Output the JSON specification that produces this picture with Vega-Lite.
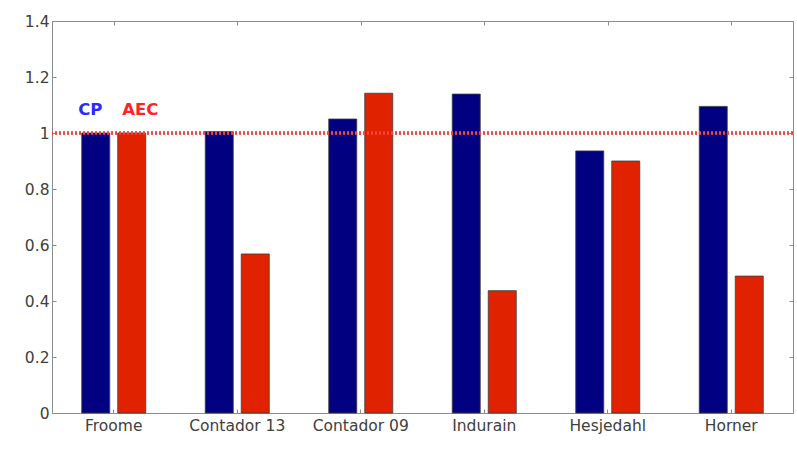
{
  "$schema": "https://vega.github.io/schema/vega-lite/v6.json",
  "autosize": {"type": "none"},
  "padding": {"left": 52, "top": 21, "right": 4, "bottom": 48},
  "width": 741,
  "height": 392,
  "background": "#ffffff",
  "config": {
    "view": {"stroke": "#8c8c8c", "strokeWidth": 1},
    "font": "DejaVu Sans",
    "axis": {
      "grid": false,
      "domainColor": "#8c8c8c",
      "tickColor": "#8c8c8c",
      "labelColor": "#404040",
      "labelFont": "DejaVu Sans",
      "labelFontSize": 15.5,
      "title": null
    }
  },
  "data": {
    "values": [
      {"name": "Froome", "series": "CP", "value": 1.0},
      {"name": "Froome", "series": "AEC", "value": 1.0},
      {"name": "Contador 13", "series": "CP", "value": 1.005},
      {"name": "Contador 13", "series": "AEC", "value": 0.568},
      {"name": "Contador 09", "series": "CP", "value": 1.05},
      {"name": "Contador 09", "series": "AEC", "value": 1.142},
      {"name": "Indurain", "series": "CP", "value": 1.139},
      {"name": "Indurain", "series": "AEC", "value": 0.437},
      {"name": "Hesjedahl", "series": "CP", "value": 0.936},
      {"name": "Hesjedahl", "series": "AEC", "value": 0.9},
      {"name": "Horner", "series": "CP", "value": 1.095},
      {"name": "Horner", "series": "AEC", "value": 0.489}
    ]
  },
  "layer": [
    {
      "encoding": {
        "x": {
          "field": "name", "type": "nominal", "sort": null,
          "scale": {"paddingInner": 0, "paddingOuter": 0},
          "axis": {"orient": "bottom", "labelAngle": 0, "tickSize": -4, "labelPadding": 9, "domain": true}
        },
        "y": {
          "field": "value", "type": "quantitative",
          "scale": {"domain": [0, 1.4], "nice": false, "zero": true},
          "axis": {"orient": "left", "values": [0, 0.2, 0.4, 0.6, 0.8, 1, 1.2, 1.4], "format": "~g", "tickSize": -4, "labelPadding": 7}
        }
      },
      "layer": [
        {
          "mark": {"type": "bar", "stroke": "#3c3c3c", "strokeWidth": 0.8},
          "encoding": {
            "xOffset": {
              "field": "series", "type": "nominal", "sort": ["CP", "AEC"],
              "scale": {"paddingInner": 0.222, "paddingOuter": 0.826}
            },
            "color": {
              "field": "series", "type": "nominal",
              "scale": {"domain": ["CP", "AEC"], "range": ["#000080", "#e02200"]},
              "legend": null
            }
          }
        },
        {
          "mark": {"type": "rule", "color": "#ff4040", "strokeWidth": 2.4, "strokeDash": [2, 2], "opacity": 0.55},
          "encoding": {"y": {"datum": 1}, "x": null}
        },
        {
          "transform": [{"filter": "datum.name === 'Froome' && datum.series === 'CP'"}],
          "mark": {"type": "text", "color": "#2a2aff", "fontWeight": "bold", "fontSize": 16.5, "dy": -23, "dx": -5.5, "baseline": "middle", "align": "center"},
          "encoding": {
            "xOffset": {"field": "series", "type": "nominal", "sort": ["CP", "AEC"], "scale": {"paddingInner": 0.222, "paddingOuter": 0.826}},
            "text": {"field": "series"}
          }
        },
        {
          "transform": [{"filter": "datum.name === 'Froome' && datum.series === 'AEC'"}],
          "mark": {"type": "text", "color": "#ff2424", "fontWeight": "bold", "fontSize": 16.5, "dy": -23, "dx": 8.5, "baseline": "middle", "align": "center"},
          "encoding": {
            "xOffset": {"field": "series", "type": "nominal", "sort": ["CP", "AEC"], "scale": {"paddingInner": 0.222, "paddingOuter": 0.826}},
            "text": {"field": "series"}
          }
        }
      ]
    },
    {
      "mark": {"type": "point", "opacity": 0},
      "encoding": {
        "x": {
          "field": "name", "type": "nominal", "sort": null,
          "scale": {"paddingInner": 0, "paddingOuter": 0},
          "axis": {"orient": "top", "labels": false, "tickSize": -4, "domain": true}
        },
        "y": {
          "field": "value", "type": "quantitative",
          "scale": {"domain": [0, 1.4], "nice": false, "zero": true},
          "axis": {"orient": "right", "labels": false, "values": [0, 0.2, 0.4, 0.6, 0.8, 1, 1.2, 1.4], "tickSize": -4, "domain": true}
        }
      }
    }
  ],
  "resolve": {"scale": {"x": "independent", "y": "independent"}}
}
